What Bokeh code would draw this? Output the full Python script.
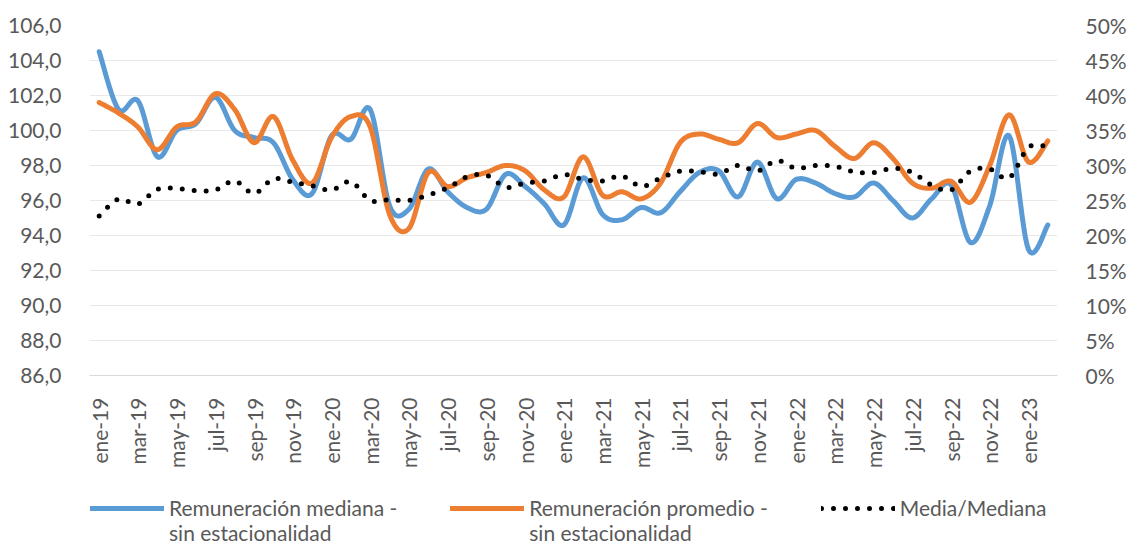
import numpy as np
from bokeh.plotting import figure
from bokeh.layouts import column
from bokeh.models import Range1d, LinearAxis, FixedTicker, Legend, LegendItem
from bokeh.embed import file_html
from bokeh.resources import INLINE

# ---------------- data ----------------
month_names = ["ene", "feb", "mar", "abr", "may", "jun", "jul", "ago", "sep", "oct", "nov", "dic"]
years = ["19", "20", "21", "22", "23"]
months = [f"{m}-{y}" for y in years for m in month_names][:50]  # ene-19 .. feb-23

mediana = [104.5, 101.2, 101.7, 98.5, 100.0, 100.4, 101.9, 100.0, 99.6, 99.3,
           97.2, 96.4, 99.7, 99.5, 101.2, 95.7, 95.5, 97.8, 96.5, 95.6,
           95.5, 97.5, 96.8, 95.8, 94.6, 97.3, 95.2, 94.9, 95.6, 95.3,
           96.5, 97.6, 97.7, 96.2, 98.2, 96.1, 97.2, 97.0, 96.4, 96.2,
           97.0, 96.0, 95.0, 96.1, 96.9, 93.6, 95.7, 99.7, 93.2, 94.6]

promedio = [101.6, 101.0, 100.2, 98.9, 100.2, 100.5, 102.1, 101.2, 99.3, 100.8,
            98.3, 97.0, 99.6, 100.8, 100.2, 95.2, 94.4, 97.6, 96.8, 97.3,
            97.6, 98.0, 97.7, 96.6, 96.2, 98.5, 96.3, 96.5, 96.1, 97.0,
            99.3, 99.8, 99.5, 99.3, 100.4, 99.6, 99.8, 100.0, 99.1, 98.4,
            99.3, 98.4, 97.0, 96.7, 97.1, 95.9, 98.0, 100.9, 98.2, 99.4]

ratio_pct = [22.8, 25.2, 24.5, 26.6, 26.7, 26.4, 26.5, 27.8, 26.0, 28.1,
             27.6, 27.1, 26.5, 27.7, 25.0, 25.1, 25.0, 25.8, 26.8, 28.4,
             28.6, 26.9, 27.5, 27.8, 28.7, 28.0, 27.8, 28.5, 27.0, 28.2,
             29.2, 29.1, 28.8, 30.0, 29.2, 30.7, 29.6, 30.0, 29.9, 29.1,
             29.0, 29.6, 29.0, 27.2, 26.5, 29.2, 29.5, 28.2, 32.6, 32.7]

left_ticks = [86, 88, 90, 92, 94, 96, 98, 100, 102, 104, 106]
left_tick_labels = ["86,0", "88,0", "90,0", "92,0", "94,0", "96,0", "98,0",
                    "100,0", "102,0", "104,0", "106,0"]
right_ticks = [0, 5, 10, 15, 20, 25, 30, 35, 40, 45, 50]
right_tick_labels = ["0%", "5%", "10%", "15%", "20%", "25%", "30%", "35%",
                     "40%", "45%", "50%"]

series_names = ["Remuneración mediana -\nsin estacionalidad",
                "Remuneración promedio -\nsin estacionalidad",
                "Media/Mediana"]
series_colors = ["#5B9BD5", "#ED7D31", "black"]

# ---------------- rendering helpers ----------------
def smooth_path(values, steps=12):
    """Render a smoothed (Bezier / Catmull-Rom) path through the data points,
    like a spreadsheet's 'smoothed line'. The data points themselves are unchanged."""
    ys = np.asarray(values, dtype=float)
    xs = np.arange(len(ys), dtype=float)
    n = len(ys)
    out_x, out_y = [], []
    for i in range(n - 1):
        i0, i3 = max(i - 1, 0), min(i + 2, n - 1)
        p0 = np.array([xs[i0], ys[i0]]); p1 = np.array([xs[i], ys[i]])
        p2 = np.array([xs[i + 1], ys[i + 1]]); p3 = np.array([xs[i3], ys[i3]])
        c1 = p1 + (p2 - p0) / 6.0
        c2 = p2 - (p3 - p1) / 6.0
        for t in np.linspace(0, 1, steps, endpoint=False):
            b = ((1 - t) ** 3) * p1 + 3 * ((1 - t) ** 2) * t * c1 + 3 * (1 - t) * t * t * c2 + (t ** 3) * p2
            out_x.append(b[0]); out_y.append(b[1])
    out_x.append(xs[-1]); out_y.append(ys[-1])
    return out_x, out_y

def legend_label(name):
    """Two-line labels get an empty first line so that the legend symbol (centred
    vertically on the label) lines up with the label's first text line."""
    return "\n" + name if "\n" in name else name

FONT = "Lato"
GREY = "#595959"
FS = "21px"
W = 1129
H_MAIN = 470
H_LEG = 75

p = figure(width=W, height=H_MAIN, output_backend="svg", toolbar_location=None,
           x_range=Range1d(-0.5, len(months) - 0.5), y_range=Range1d(86, 106),
           min_border_left=89, min_border_right=66, min_border_top=25,
           min_border_bottom=H_MAIN - 378)
p.outline_line_color = None
p.background_fill_color = "white"
p.border_fill_color = "white"

p.extra_y_ranges = {"pct": Range1d(0, 50)}

line_styles = [dict(line_color=series_colors[0], line_width=5, line_cap="round", line_join="round"),
               dict(line_color=series_colors[1], line_width=5, line_cap="round", line_join="round"),
               dict(line_color=series_colors[2], line_width=5, line_dash="0 12", line_cap="round")]

mx, my = smooth_path(mediana)
p.line(mx, my, **line_styles[0])
px_, py_ = smooth_path(promedio)
p.line(px_, py_, **line_styles[1])
rx, ry = smooth_path(ratio_pct)
p.line(rx, ry, y_range_name="pct", **line_styles[2])

# axes
xa = p.xaxis[0]
xa.ticker = FixedTicker(ticks=list(range(0, len(months), 2)))
xa.major_label_overrides = {i: months[i] for i in range(0, len(months), 2)}
xa.major_label_orientation = np.pi / 2
xa.major_label_standoff = 16
xa.axis_line_color = "#D9D9D9"
xa.major_tick_line_color = None
xa.minor_tick_line_color = None

ya = p.yaxis[0]
ya.ticker = FixedTicker(ticks=left_ticks)
ya.major_label_overrides = {t: l for t, l in zip(left_ticks, left_tick_labels)}
ya.major_label_standoff = 22
ya.axis_line_color = None
ya.major_tick_line_color = None
ya.minor_tick_line_color = None

ra = LinearAxis(y_range_name="pct")
ra.ticker = FixedTicker(ticks=right_ticks)
ra.major_label_overrides = {t: l for t, l in zip(right_ticks, right_tick_labels)}
ra.major_label_standoff = 22
ra.axis_line_color = None
ra.major_tick_line_color = None
ra.minor_tick_line_color = None
p.add_layout(ra, "right")

for ax in (xa, ya, ra):
    ax.major_label_text_font = FONT
    ax.major_label_text_font_size = FS
    ax.major_label_text_color = GREY

p.xgrid.grid_line_color = None
p.ygrid.grid_line_color = "#E8E8E8"
p.ygrid.ticker = FixedTicker(ticks=left_ticks)

# ---------------- legend (own strip below the chart) ----------------
lg = figure(width=W, height=H_LEG, output_backend="svg", toolbar_location=None,
            x_range=Range1d(0, 1), y_range=Range1d(0, 1),
            min_border_left=0, min_border_right=0, min_border_top=0, min_border_bottom=0)
lg.axis.visible = False
lg.grid.visible = False
lg.outline_line_color = None
lg.background_fill_color = "white"
lg.border_fill_color = "white"

items = []
for name, style in zip(series_names, line_styles):
    # placeholder renderer (a single NaN point draws nothing) that only carries the legend style
    r = lg.line(x=[float("nan")], y=[float("nan")], **style)
    items.append(LegendItem(label=legend_label(name), renderers=[r]))

legend = Legend(items=items, orientation="horizontal", location=(1, 0))
legend.label_text_font = FONT
legend.label_text_font_size = FS
legend.label_text_color = GREY
legend.label_text_line_height = 1.2
legend.glyph_width = 74
legend.glyph_height = 20
legend.label_standoff = 5
legend.spacing = 53
legend.padding = 0
legend.margin = 0
legend.border_line_color = None
legend.background_fill_alpha = 0
lg.add_layout(legend, "center")

layout = column(p, lg, spacing=0)
open("out.html", "w").write(file_html(layout, INLINE))
